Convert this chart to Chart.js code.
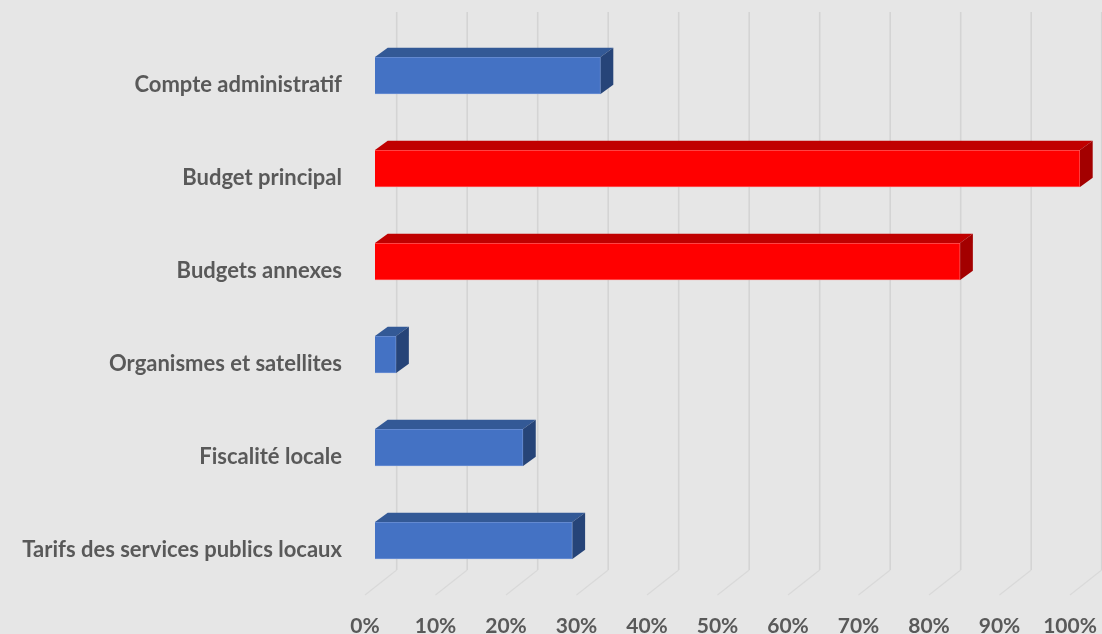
<!DOCTYPE html>
<html>
<head>
<meta charset="utf-8">
<script src="https://cdn.jsdelivr.net/npm/chart.js@4/dist/chart.umd.min.js"></script>
<style>
  body { margin: 0; background: #e6e6e6; }
  #wrap { width: 1102px; height: 634px; }
</style>
</head>
<body>
<div id="wrap"><canvas id="chart" width="1102" height="634"></canvas></div>
<script>
const categories = [
  "Compte administratif",
  "Budget principal",
  "Budgets annexes",
  "Organismes et satellites",
  "Fiscalité locale",
  "Tarifs des services publics locaux",
];
const shares = [32, 100, 83, 3, 21, 28];
const tickValues = [0, 10, 20, 30, 40, 50, 60, 70, 80, 90, 100];
const highlighted = ["Budget principal", "Budgets annexes"];

const BLUE = { front: "#4472c4", top: "#335996", side: "#264478", edge: "#6e92d4" };
const RED = { front: "#ff0000", top: "#c00000", side: "#a30000", edge: "#ff5a5a" };
const palette = categories.map((c) => (highlighted.includes(c) ? RED : BLUE));

// depth of the bars and of the floor (oblique 3D look)
const BAR_DX = 12.7, BAR_DY = 9.3;

const background = {
  id: "background",
  beforeDraw(chart) {
    const ctx = chart.ctx;
    ctx.save();
    ctx.fillStyle = "#e6e6e6";
    ctx.fillRect(0, 0, chart.width, chart.height);
    ctx.restore();
  },
};

const grid3d = {
  id: "grid3d",
  beforeDatasetsDraw(chart) {
    const ctx = chart.ctx;
    const xs = chart.scales.x;
    const area = chart.chartArea;
    const wallTop = area.top - 17;
    const wallBottom = area.bottom - 17;
    const floorFront = area.bottom + 8;
    ctx.save();
    tickValues.forEach((v) => {
      const front = xs.getPixelForValue(v) - 10;
      const back = front + 31.7;
      ctx.strokeStyle = "#d4d4d4";
      ctx.lineWidth = 1.6;
      ctx.beginPath();
      ctx.moveTo(back, wallTop);
      ctx.lineTo(back, wallBottom);
      ctx.stroke();
      ctx.strokeStyle = "#d9d9d9";
      ctx.lineWidth = 1.2;
      ctx.beginPath();
      ctx.moveTo(back, wallBottom);
      ctx.lineTo(front, floorFront);
      ctx.stroke();
    });
    ctx.restore();
  },
};

const bars3d = {
  id: "bars3d",
  afterDatasetsDraw(chart) {
    const ctx = chart.ctx;
    const meta = chart.getDatasetMeta(0);
    ctx.save();
    meta.data.forEach((bar, i) => {
      const { x, y, base, height } = bar.getProps(["x", "y", "base", "height"], true);
      const top = y - height / 2;
      const bottom = y + height / 2;
      const col = palette[i];
      ctx.fillStyle = col.top;
      ctx.beginPath();
      ctx.moveTo(base, top);
      ctx.lineTo(base + BAR_DX, top - BAR_DY);
      ctx.lineTo(x + BAR_DX, top - BAR_DY);
      ctx.lineTo(x, top);
      ctx.closePath();
      ctx.fill();
      ctx.fillStyle = col.side;
      ctx.beginPath();
      ctx.moveTo(x, top);
      ctx.lineTo(x + BAR_DX, top - BAR_DY);
      ctx.lineTo(x + BAR_DX, bottom - BAR_DY);
      ctx.lineTo(x, bottom);
      ctx.closePath();
      ctx.fill();
    });
    ctx.restore();
  },
};

new Chart(document.getElementById("chart"), {
  type: "bar",
  data: {
    labels: categories,
    datasets: [
      {
        data: shares,
        backgroundColor: palette.map((p) => p.front),
        borderColor: palette.map((p) => p.edge),
        borderWidth: 1,
        barThickness: 37,
      },
    ],
  },
  options: {
    indexAxis: "y",
    responsive: false,
    animation: false,
    layout: { padding: { top: 29, right: 22, left: 0, bottom: 0 } },
    plugins: { legend: { display: false }, tooltip: { enabled: false } },
    scales: {
      x: {
        min: 0,
        max: 100,
        ticks: {
          stepSize: 10,
          labelOffset: -10,
          padding: 27,
          color: "#595959",
          font: { family: "Lato", weight: "bold", size: 21 },
          callback: (v) => v + "%",
          maxRotation: 0,
          autoSkip: false,
        },
        grid: { display: false, drawTicks: false },
        border: { display: false },
        afterFit: (scale) => {
          scale.height = 47;
          scale.paddingLeft = 0;
          scale.paddingRight = 0;
        },
      },
      y: {
        ticks: {
          labelOffset: 9,
          padding: 33,
          color: "#595959",
          font: { family: "Lato", weight: "bold", size: 22 },
        },
        grid: { display: false, drawTicks: false },
        border: { display: false },
        afterFit: (scale) => {
          scale.width = 375;
          scale.paddingTop = 0;
          scale.paddingBottom = 0;
        },
      },
    },
  },
  plugins: [background, grid3d, bars3d],
});
</script>
</body>
</html>
